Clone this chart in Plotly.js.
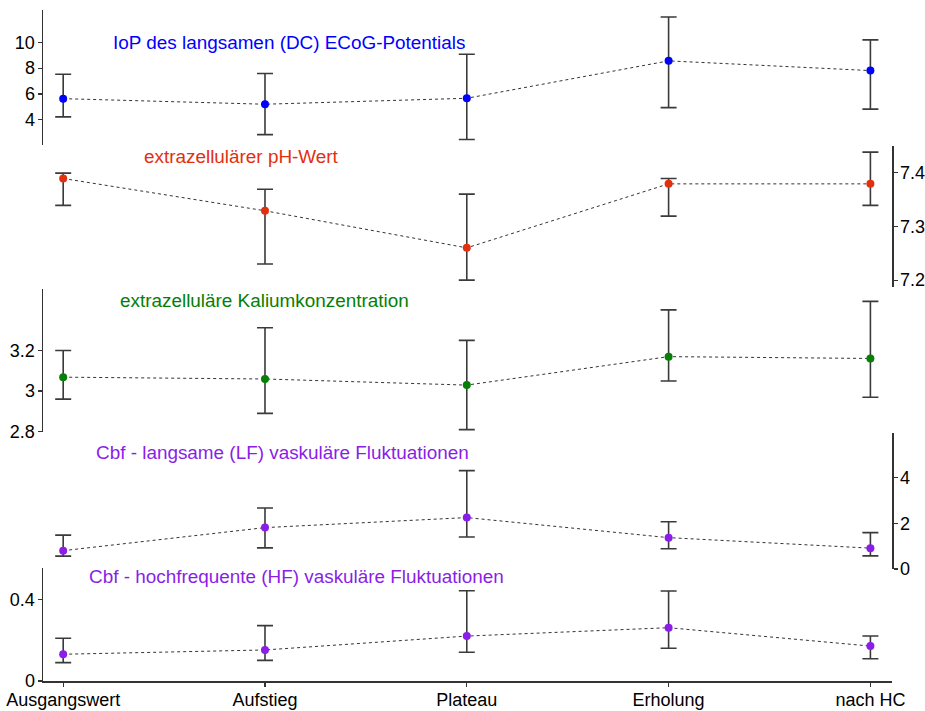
<!DOCTYPE html>
<html>
<head>
<meta charset="utf-8">
<script src="https://cdn.plot.ly/plotly-3.0.1.min.js"></script>
<style>html,body{margin:0;padding:0;background:#fff;}#chart{width:925px;height:711px;}</style>
</head>
<body>
<div id="chart"></div>
<script>
// Categories
const categories = ["Ausgangswert", "Aufstieg", "Plateau", "Erholung", "nach HC"];

// Panel 1: IoP des langsamen (DC) ECoG-Potentials
const iopMean = [5.64, 5.21, 5.67, 8.56, 7.81];
const iopErrPlus = [1.89, 2.37, 3.40, 3.39, 2.37];
const iopErrMinus = [1.41, 2.35, 3.19, 3.61, 2.98];

// Panel 2: extrazellulärer pH-Wert
const phMean = [7.389, 7.329, 7.260, 7.379, 7.379];
const phErrPlus = [0.010, 0.040, 0.100, 0.010, 0.059];
const phErrMinus = [0.050, 0.099, 0.060, 0.060, 0.040];

// Panel 3: extrazelluläre Kaliumkonzentration
const kMean = [3.068, 3.059, 3.029, 3.169, 3.160];
const kErrPlus = [0.131, 0.252, 0.220, 0.230, 0.281];
const kErrMinus = [0.108, 0.169, 0.219, 0.120, 0.191];

// Panel 4: Cbf - langsame (LF) vaskuläre Fluktuationen
const lfMean = [0.80, 1.81, 2.25, 1.37, 0.91];
const lfErrPlus = [0.68, 0.86, 2.06, 0.70, 0.68];
const lfErrMinus = [0.24, 0.89, 0.85, 0.49, 0.34];

// Panel 5: Cbf - hochfrequente (HF) vaskuläre Fluktuationen
const hfMean = [0.131, 0.152, 0.220, 0.261, 0.171];
const hfErrPlus = [0.078, 0.119, 0.222, 0.180, 0.049];
const hfErrMinus = [0.041, 0.051, 0.079, 0.101, 0.062];

// Titles
const panelTitles = [
  "IoP des langsamen (DC) ECoG-Potentials",
  "extrazellulärer pH-Wert",
  "extrazelluläre Kaliumkonzentration",
  "Cbf - langsame (LF) vaskuläre Fluktuationen",
  "Cbf - hochfrequente (HF) vaskuläre Fluktuationen"
];

const xIdx = categories.map((c, i) => i);
const FONT = "Liberation Sans, Arial, sans-serif";
const AX = "#333333";
const ERR = "#3a3a3a";

function trace(y, plus, minus, color, yaxis) {
  return {
    x: xIdx, y: y, xaxis: "x", yaxis: yaxis,
    type: "scatter", mode: "lines+markers",
    line: {color: "#333333", width: 1, dash: "dot"},
    marker: {color: color, size: 8},
    error_y: {type: "data", symmetric: false, array: plus, arrayminus: minus,
              color: ERR, thickness: 1.6, width: 8},
    cliponaxis: false,
    showlegend: false,
    hoverinfo: "skip"
  };
}

const cBlue = "#0000ff", cRed = "#e2300f", cGreen = "#058005", cPurple = "#8a1ee8";

const data = [
  trace(hfMean, hfErrPlus, hfErrMinus, cPurple, "y"),
  trace(lfMean, lfErrPlus, lfErrMinus, cPurple, "y2"),
  trace(kMean, kErrPlus, kErrMinus, cGreen, "y3"),
  trace(phMean, phErrPlus, phErrMinus, cRed, "y4"),
  trace(iopMean, iopErrPlus, iopErrMinus, cBlue, "y5")
];

function yax(domain, range, tickvals, ticktext, side) {
  return {
    domain: domain, range: range, tickvals: tickvals, ticktext: ticktext,
    side: side, anchor: "x", showgrid: false, zeroline: false,
    showline: true, linecolor: AX, linewidth: 1.5,
    ticks: "outside", ticklen: 4, tickwidth: 1.2, tickcolor: AX,
    ticklabelstandoff: -1,
    tickfont: {family: FONT, size: 18, color: "#000"},
    fixedrange: true
  };
}

const layout = {
  width: 925, height: 711,
  margin: {l: 43, r: 33, t: 10, b: 30},
  paper_bgcolor: "#ffffff", plot_bgcolor: "#ffffff",
  font: {family: FONT, size: 18, color: "#000"},
  xaxis: {
    range: [-0.1, 4.107], tickvals: xIdx, ticktext: categories,
    anchor: "y", showgrid: false, zeroline: false,
    showline: true, linecolor: AX, linewidth: 1.5,
    ticks: "outside", ticklen: 4, tickwidth: 1.2, tickcolor: AX,
    ticklabelstandoff: -2,
    tickfont: {family: FONT, size: 18, color: "#000"},
    fixedrange: true
  },
  yaxis: yax([0, 0.168], [0, 0.552], [0, 0.4], ["0", "0.4"], "left"),
  yaxis2: yax([0.1669, 0.370], [-0.005, 5.97], [0, 2, 4], ["0", "2", "4"], "right"),
  yaxis3: yax([0.371, 0.584], [2.798, 3.501], [2.8, 3.0, 3.2], ["2.8", "3", "3.2"], "left"),
  yaxis4: yax([0.587, 0.797], [7.187, 7.449], [7.2, 7.3, 7.4], ["7.2", "7.3", "7.4"], "right"),
  yaxis5: yax([0.799, 1.0], [2.07, 12.49], [4, 6, 8, 10], ["4", "6", "8", "10"], "left"),
  annotations: [
    {text: panelTitles[0], x: 0.290, y: 0.952, color: cBlue},
    {text: panelTitles[1], x: 0.2333, y: 0.781, color: cRed},
    {text: panelTitles[2], x: 0.2609, y: 0.5678, color: cGreen},
    {text: panelTitles[3], x: 0.2821, y: 0.3402, color: cPurple},
    {text: panelTitles[4], x: 0.2986, y: 0.1554, color: cPurple}
  ].map(a => ({
    text: a.text, x: a.x, y: a.y, xref: "paper", yref: "paper",
    xanchor: "center", yanchor: "middle", showarrow: false,
    font: {family: FONT, size: 18.9, color: a.color}
  }))
};

Plotly.newPlot("chart", data, layout, {displayModeBar: false, staticPlot: true});
</script>
</body>
</html>
